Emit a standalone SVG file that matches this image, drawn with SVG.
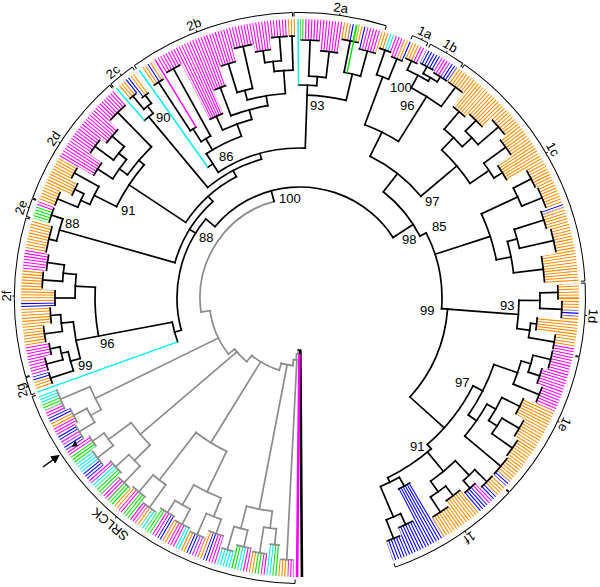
<svg xmlns="http://www.w3.org/2000/svg" width="600" height="587" viewBox="0 0 600 587">
<style>
.t path,.t circle{fill:none;stroke:#000;stroke-width:1.7;stroke-linecap:square}
.t .g path,.t .g circle{stroke:#8c8c8c}
.L circle{fill:none;stroke-width:84}
.o{stroke:#ff8c00}.m{stroke:#ff00ff}.b{stroke:#0000ff}.c{stroke:#00f0f0}.n{stroke:#00e600}.k{stroke:#000}
.lf path{fill:none;stroke-width:1.4}
.br path,.br circle{fill:none;stroke:#000;stroke-width:1}
text{font-family:"Liberation Sans",Arial,Helvetica,sans-serif;font-size:13px;fill:#000}
.cl text{font-size:13px;text-anchor:middle}
</style>
<defs>
<mask id="k" maskUnits="userSpaceOnUse" x="-300" y="-300" width="600" height="600">
<circle r="237" fill="none" stroke="#fff" stroke-width="86" pathLength="1000" stroke-dasharray="0.72 0.98"/>
<g id="er" fill="none" stroke="#000">
<circle r="226" stroke-width="64" pathLength="360" stroke-dasharray="4.5 999" transform="rotate(-90)"/>
<circle r="221" stroke-width="54" pathLength="360" stroke-dasharray="4.5 999" transform="rotate(-85.5)"/>
<circle r="228" stroke-width="68" pathLength="360" stroke-dasharray="4.1 999" transform="rotate(-81)"/>
<circle r="225" stroke-width="62" pathLength="360" stroke-dasharray="4.3 999" transform="rotate(-76.9)"/>
<circle r="228" stroke-width="68" pathLength="360" stroke-dasharray="3.1 999" transform="rotate(-72.6)"/>
<circle r="226" stroke-width="64" pathLength="360" stroke-dasharray="3.1 999" transform="rotate(-69.5)"/>
<circle r="228" stroke-width="68" pathLength="360" stroke-dasharray="3.2 999" transform="rotate(-66.4)"/>
<circle r="229" stroke-width="70" pathLength="360" stroke-dasharray="3.5 999" transform="rotate(-63)"/>
<circle r="228" stroke-width="68" pathLength="360" stroke-dasharray="3.8 999" transform="rotate(-59.5)"/>
<circle r="228" stroke-width="68" pathLength="360" stroke-dasharray="4.2 999" transform="rotate(-55.7)"/>
<circle r="219.5" stroke-width="51" pathLength="360" stroke-dasharray="4 999" transform="rotate(-51.5)"/>
<circle r="222" stroke-width="56" pathLength="360" stroke-dasharray="4.5 999" transform="rotate(-47.5)"/>
<circle r="228" stroke-width="68" pathLength="360" stroke-dasharray="4.5 999" transform="rotate(-43)"/>
<circle r="224.5" stroke-width="61" pathLength="360" stroke-dasharray="4.5 999" transform="rotate(-38.5)"/>
<circle r="216" stroke-width="44" pathLength="360" stroke-dasharray="4.5 999" transform="rotate(-34)"/>
<circle r="227" stroke-width="66" pathLength="360" stroke-dasharray="4.5 999" transform="rotate(-29.5)"/>
<circle r="228" stroke-width="68" pathLength="360" stroke-dasharray="5 999" transform="rotate(-25)"/>
<circle r="225" stroke-width="62" pathLength="360" stroke-dasharray="4.5 999" transform="rotate(-20)"/>
<circle r="227" stroke-width="66" pathLength="360" stroke-dasharray="5.5 999" transform="rotate(-15.5)"/>
<circle r="219.5" stroke-width="51" pathLength="360" stroke-dasharray="6.5 999" transform="rotate(-10)"/>
<circle r="226" stroke-width="64" pathLength="360" stroke-dasharray="3.5 999" transform="rotate(-3)"/>
<circle r="228" stroke-width="68" pathLength="360" stroke-dasharray="4 999" transform="rotate(0.5)"/>
<circle r="216" stroke-width="44" pathLength="360" stroke-dasharray="3.5 999" transform="rotate(4.5)"/>
<circle r="226" stroke-width="64" pathLength="360" stroke-dasharray="3.6 999" transform="rotate(8)"/>
<circle r="226" stroke-width="64" pathLength="360" stroke-dasharray="4.4 999" transform="rotate(11.6)"/>
<circle r="223" stroke-width="58" pathLength="360" stroke-dasharray="4 999" transform="rotate(16)"/>
<circle r="226" stroke-width="64" pathLength="360" stroke-dasharray="4 999" transform="rotate(20)"/>
<circle r="219.5" stroke-width="51" pathLength="360" stroke-dasharray="4.5 999" transform="rotate(24)"/>
<circle r="224.5" stroke-width="61" pathLength="360" stroke-dasharray="4.5 999" transform="rotate(28.5)"/>
<circle r="227" stroke-width="66" pathLength="360" stroke-dasharray="4.5 999" transform="rotate(33)"/>
<circle r="228" stroke-width="68" pathLength="360" stroke-dasharray="4.9 999" transform="rotate(37.5)"/>
<circle r="228" stroke-width="68" pathLength="360" stroke-dasharray="3.8 999" transform="rotate(42.6)"/>
<circle r="224.5" stroke-width="61" pathLength="360" stroke-dasharray="3.6 999" transform="rotate(46.4)"/>
<circle r="222" stroke-width="56" pathLength="360" stroke-dasharray="4.5 999" transform="rotate(50)"/>
<circle r="225" stroke-width="62" pathLength="360" stroke-dasharray="4.5 999" transform="rotate(54.5)"/>
<circle r="204.5" stroke-width="21" pathLength="360" stroke-dasharray="4 999" transform="rotate(59)"/>
<circle r="222" stroke-width="56" pathLength="360" stroke-dasharray="4 999" transform="rotate(63)"/>
<circle r="226" stroke-width="64" pathLength="360" stroke-dasharray="3.5 999" transform="rotate(67)"/>
<circle r="228" stroke-width="68" pathLength="360" stroke-dasharray="3.2 999" transform="rotate(91.3)"/>
<circle r="221" stroke-width="54" pathLength="360" stroke-dasharray="2.7 999" transform="rotate(94.5)"/>
<circle r="226" stroke-width="64" pathLength="360" stroke-dasharray="3.6 999" transform="rotate(97.2)"/>
<circle r="224.5" stroke-width="61" pathLength="360" stroke-dasharray="3.8 999" transform="rotate(100.8)"/>
<circle r="228" stroke-width="68" pathLength="360" stroke-dasharray="3 999" transform="rotate(104.6)"/>
<circle r="222" stroke-width="56" pathLength="360" stroke-dasharray="4 999" transform="rotate(107.6)"/>
<circle r="226" stroke-width="64" pathLength="360" stroke-dasharray="3.8 999" transform="rotate(111.6)"/>
<circle r="224.5" stroke-width="61" pathLength="360" stroke-dasharray="4.2 999" transform="rotate(115.4)"/>
<circle r="223" stroke-width="58" pathLength="360" stroke-dasharray="4.2 999" transform="rotate(119.6)"/>
<circle r="226" stroke-width="64" pathLength="360" stroke-dasharray="3.8 999" transform="rotate(123.8)"/>
<circle r="223" stroke-width="58" pathLength="360" stroke-dasharray="4.2 999" transform="rotate(127.6)"/>
<circle r="224.5" stroke-width="61" pathLength="360" stroke-dasharray="3.6 999" transform="rotate(131.8)"/>
<circle r="222" stroke-width="56" pathLength="360" stroke-dasharray="4.2 999" transform="rotate(135.4)"/>
<circle r="226" stroke-width="64" pathLength="360" stroke-dasharray="4.2 999" transform="rotate(139.6)"/>
<circle r="223" stroke-width="58" pathLength="360" stroke-dasharray="3.2 999" transform="rotate(143.8)"/>
<circle r="226" stroke-width="64" pathLength="360" stroke-dasharray="3.6 999" transform="rotate(147)"/>
<circle r="224.5" stroke-width="61" pathLength="360" stroke-dasharray="4 999" transform="rotate(150.6)"/>
<circle r="227" stroke-width="66" pathLength="360" stroke-dasharray="5 999" transform="rotate(154.6)"/>
<circle r="228" stroke-width="68" pathLength="360" stroke-dasharray="2.8 999" transform="rotate(160.8)"/>
<circle r="228" stroke-width="68" pathLength="360" stroke-dasharray="3.4 999" transform="rotate(163.6)"/>
<circle r="224.5" stroke-width="61" pathLength="360" stroke-dasharray="3 999" transform="rotate(167)"/>
<circle r="226" stroke-width="64" pathLength="360" stroke-dasharray="4 999" transform="rotate(170)"/>
<circle r="222" stroke-width="56" pathLength="360" stroke-dasharray="4 999" transform="rotate(174)"/>
<circle r="219.5" stroke-width="51" pathLength="360" stroke-dasharray="4 999" transform="rotate(178)"/>
<circle r="226" stroke-width="64" pathLength="360" stroke-dasharray="4 999" transform="rotate(182)"/>
<circle r="224.5" stroke-width="61" pathLength="360" stroke-dasharray="4 999" transform="rotate(186)"/>
<circle r="226" stroke-width="64" pathLength="360" stroke-dasharray="6.4 999" transform="rotate(190)"/>
<circle r="228" stroke-width="68" pathLength="360" stroke-dasharray="3.9 999" transform="rotate(196.4)"/>
<circle r="228" stroke-width="68" pathLength="360" stroke-dasharray="3.7 999" transform="rotate(200.3)"/>
<circle r="222" stroke-width="56" pathLength="360" stroke-dasharray="3.5 999" transform="rotate(204)"/>
<circle r="226" stroke-width="64" pathLength="360" stroke-dasharray="3 999" transform="rotate(207.5)"/>
<circle r="217" stroke-width="46" pathLength="360" stroke-dasharray="4 999" transform="rotate(210.5)"/>
<circle r="224.5" stroke-width="61" pathLength="360" stroke-dasharray="4 999" transform="rotate(214.5)"/>
<circle r="221" stroke-width="54" pathLength="360" stroke-dasharray="4.5 999" transform="rotate(218.5)"/>
<circle r="227" stroke-width="66" pathLength="360" stroke-dasharray="5.2 999" transform="rotate(223)"/>
<circle r="228" stroke-width="68" pathLength="360" stroke-dasharray="2.3 999" transform="rotate(229.2)"/>
<circle r="224.5" stroke-width="61" pathLength="360" stroke-dasharray="2.5 999" transform="rotate(231.5)"/>
<circle r="226" stroke-width="64" pathLength="360" stroke-dasharray="3.1 999" transform="rotate(235.2)"/>
<circle r="228" stroke-width="68" pathLength="360" stroke-dasharray="3.9 999" transform="rotate(239.1)"/>
<circle r="197" stroke-width="6" pathLength="360" stroke-dasharray="4.5 999" transform="rotate(243)"/>
<circle r="209.5" stroke-width="31" pathLength="360" stroke-dasharray="3.5 999" transform="rotate(247.5)"/>
<circle r="219.5" stroke-width="51" pathLength="360" stroke-dasharray="4 999" transform="rotate(251)"/>
<circle r="226" stroke-width="64" pathLength="360" stroke-dasharray="4.5 999" transform="rotate(255)"/>
<circle r="222" stroke-width="56" pathLength="360" stroke-dasharray="4 999" transform="rotate(259.5)"/>
<circle r="228" stroke-width="68" pathLength="360" stroke-dasharray="4 999" transform="rotate(263.5)"/>
<circle r="228" stroke-width="68" pathLength="360" stroke-dasharray="1.7 999" transform="rotate(267.5)"/>
</g>
<use href="#er" transform="rotate(0.18)"/>
<use href="#er" transform="rotate(-0.18)"/>
</mask>
<marker id="ah" viewBox="0 0 10 10" refX="2" refY="5" markerWidth="6" markerHeight="6" orient="auto"><path d="M0 0L10 5L0 10z" fill="#000"/></marker>
</defs>
<rect width="600" height="587" fill="#fff"/>
<g transform="translate(300 298)">
<g id="leaves" class="L" mask="url(#k)">
<circle r="237" pathLength="360" class="n" stroke-dasharray="0.8 999" transform="rotate(-90)"/>
<circle r="237" pathLength="360" class="m" stroke-dasharray="8.2 999" transform="rotate(-89.2)"/>
<circle r="237" pathLength="360" class="o" stroke-dasharray="1.5 999" transform="rotate(-81)"/>
<circle r="237" pathLength="360" class="b" stroke-dasharray="0.9 999" transform="rotate(-79.5)"/>
<circle r="237" pathLength="360" class="n" stroke-dasharray="0.8 999" transform="rotate(-78.6)"/>
<circle r="237" pathLength="360" class="o" stroke-dasharray="0.9 999" transform="rotate(-77.8)"/>
<circle r="237" pathLength="360" class="b" stroke-dasharray="0.9 999" transform="rotate(-76.9)"/>
<circle r="237" pathLength="360" class="m" stroke-dasharray="3 999" transform="rotate(-76)"/>
<circle r="237" pathLength="360" class="o" stroke-dasharray="1.8 999" transform="rotate(-73)"/>
<circle r="237" pathLength="360" class="c" stroke-dasharray="1 999" transform="rotate(-71.2)"/>
<circle r="237" pathLength="360" class="m" stroke-dasharray="2.2 999" transform="rotate(-70.2)"/>
<circle r="237" pathLength="360" class="o" stroke-dasharray="1 999" transform="rotate(-68)"/>
<circle r="237" pathLength="360" class="b" stroke-dasharray="0.6 999" transform="rotate(-67)"/>
<circle r="237" pathLength="360" class="o" stroke-dasharray="1.9 999" transform="rotate(-66.4)"/>
<circle r="237" pathLength="360" class="m" stroke-dasharray="1.3 999" transform="rotate(-64.5)"/>
<circle r="237" pathLength="360" class="b" stroke-dasharray="3.5 999" transform="rotate(-63)"/>
<circle r="237" pathLength="360" class="m" stroke-dasharray="2 999" transform="rotate(-59.5)"/>
<circle r="237" pathLength="360" class="b" stroke-dasharray="1.8 999" transform="rotate(-57.5)"/>
<circle r="237" pathLength="360" class="o" stroke-dasharray="36 999" transform="rotate(-55.7)"/>
<circle r="237" pathLength="360" class="b" stroke-dasharray="0.7 999" transform="rotate(-19.7)"/>
<circle r="237" pathLength="360" class="o" stroke-dasharray="15.5 999" transform="rotate(-19)"/>
<circle r="237" pathLength="360" class="o" stroke-dasharray="5.6 999" transform="rotate(-3)"/>
<circle r="237" pathLength="360" class="b" stroke-dasharray="1.2 999" transform="rotate(2.6)"/>
<circle r="237" pathLength="360" class="o" stroke-dasharray="6.6 999" transform="rotate(3.8)"/>
<circle r="237" pathLength="360" class="m" stroke-dasharray="1.2 999" transform="rotate(10.4)"/>
<circle r="237" pathLength="360" class="m" stroke-dasharray="12.4 999" transform="rotate(11.6)"/>
<circle r="237" pathLength="360" class="o" stroke-dasharray="17.2 999" transform="rotate(24)"/>
<circle r="237" pathLength="360" class="b" stroke-dasharray="1.2 999" transform="rotate(41.2)"/>
<circle r="237" pathLength="360" class="o" stroke-dasharray="2.7 999" transform="rotate(42.6)"/>
<circle r="237" pathLength="360" class="b" stroke-dasharray="1.1 999" transform="rotate(45.3)"/>
<circle r="237" pathLength="360" class="m" stroke-dasharray="1.4 999" transform="rotate(46.4)"/>
<circle r="237" pathLength="360" class="b" stroke-dasharray="2.2 999" transform="rotate(47.8)"/>
<circle r="237" pathLength="360" class="o" stroke-dasharray="9 999" transform="rotate(50)"/>
<circle r="237" pathLength="360" class="b" stroke-dasharray="11.5 999" transform="rotate(59)"/>
<circle r="237" pathLength="360" class="m" stroke-dasharray="1.3 999" transform="rotate(91.3)"/>
<circle r="237" pathLength="360" class="o" stroke-dasharray="1.9 999" transform="rotate(92.6)"/>
<circle r="237" pathLength="360" class="n" stroke-dasharray="1.3 999" transform="rotate(94.5)"/>
<circle r="237" pathLength="360" class="c" stroke-dasharray="1.4 999" transform="rotate(95.8)"/>
<circle r="237" pathLength="360" class="m" stroke-dasharray="1 999" transform="rotate(97.2)"/>
<circle r="237" pathLength="360" class="n" stroke-dasharray="1.4 999" transform="rotate(98.2)"/>
<circle r="237" pathLength="360" class="o" stroke-dasharray="1.2 999" transform="rotate(99.6)"/>
<circle r="237" pathLength="360" class="m" stroke-dasharray="1.2 999" transform="rotate(100.8)"/>
<circle r="237" pathLength="360" class="c" stroke-dasharray="1.3 999" transform="rotate(102)"/>
<circle r="237" pathLength="360" class="n" stroke-dasharray="1.3 999" transform="rotate(103.3)"/>
<circle r="237" pathLength="360" class="c" stroke-dasharray="3 999" transform="rotate(104.6)"/>
<circle r="237" pathLength="360" class="m" stroke-dasharray="1.8 999" transform="rotate(107.6)"/>
<circle r="237" pathLength="360" class="b" stroke-dasharray="1 999" transform="rotate(109.4)"/>
<circle r="237" pathLength="360" class="o" stroke-dasharray="1.2 999" transform="rotate(110.4)"/>
<circle r="237" pathLength="360" class="m" stroke-dasharray="1.2 999" transform="rotate(111.6)"/>
<circle r="237" pathLength="360" class="b" stroke-dasharray="1.4 999" transform="rotate(112.8)"/>
<circle r="237" pathLength="360" class="o" stroke-dasharray="1.2 999" transform="rotate(114.2)"/>
<circle r="237" pathLength="360" class="c" stroke-dasharray="1.2 999" transform="rotate(115.4)"/>
<circle r="237" pathLength="360" class="m" stroke-dasharray="1.8 999" transform="rotate(116.6)"/>
<circle r="237" pathLength="360" class="o" stroke-dasharray="1.2 999" transform="rotate(118.4)"/>
<circle r="237" pathLength="360" class="b" stroke-dasharray="1.2 999" transform="rotate(119.6)"/>
<circle r="237" pathLength="360" class="m" stroke-dasharray="1.6 999" transform="rotate(120.8)"/>
<circle r="237" pathLength="360" class="n" stroke-dasharray="1.4 999" transform="rotate(122.4)"/>
<circle r="237" pathLength="360" class="c" stroke-dasharray="1.2 999" transform="rotate(123.8)"/>
<circle r="237" pathLength="360" class="o" stroke-dasharray="1.2 999" transform="rotate(125)"/>
<circle r="237" pathLength="360" class="m" stroke-dasharray="1.4 999" transform="rotate(126.2)"/>
<circle r="237" pathLength="360" class="n" stroke-dasharray="1.8 999" transform="rotate(127.6)"/>
<circle r="237" pathLength="360" class="m" stroke-dasharray="1.2 999" transform="rotate(129.4)"/>
<circle r="237" pathLength="360" class="o" stroke-dasharray="1.2 999" transform="rotate(130.6)"/>
<circle r="237" pathLength="360" class="n" stroke-dasharray="1.8 999" transform="rotate(131.8)"/>
<circle r="237" pathLength="360" class="m" stroke-dasharray="1.8 999" transform="rotate(133.6)"/>
<circle r="237" pathLength="360" class="n" stroke-dasharray="1.8 999" transform="rotate(135.4)"/>
<circle r="237" pathLength="360" class="c" stroke-dasharray="1.2 999" transform="rotate(137.2)"/>
<circle r="237" pathLength="360" class="m" stroke-dasharray="1.2 999" transform="rotate(138.4)"/>
<circle r="237" pathLength="360" class="b" stroke-dasharray="1.8 999" transform="rotate(139.6)"/>
<circle r="237" pathLength="360" class="c" stroke-dasharray="2.4 999" transform="rotate(141.4)"/>
<circle r="237" pathLength="360" class="n" stroke-dasharray="1.8 999" transform="rotate(143.8)"/>
<circle r="237" pathLength="360" class="m" stroke-dasharray="1.4 999" transform="rotate(145.6)"/>
<circle r="237" pathLength="360" class="b" stroke-dasharray="1.2 999" transform="rotate(147)"/>
<circle r="237" pathLength="360" class="m" stroke-dasharray="1.2 999" transform="rotate(148.2)"/>
<circle r="237" pathLength="360" class="b" stroke-dasharray="1.2 999" transform="rotate(149.4)"/>
<circle r="237" pathLength="360" class="m" stroke-dasharray="1.6 999" transform="rotate(150.6)"/>
<circle r="237" pathLength="360" class="o" stroke-dasharray="1.2 999" transform="rotate(152.2)"/>
<circle r="237" pathLength="360" class="b" stroke-dasharray="1.2 999" transform="rotate(153.4)"/>
<circle r="237" pathLength="360" class="m" stroke-dasharray="1.6 999" transform="rotate(154.6)"/>
<circle r="237" pathLength="360" class="n" stroke-dasharray="1.4 999" transform="rotate(156.2)"/>
<circle r="237" pathLength="360" class="c" stroke-dasharray="2 999" transform="rotate(157.6)"/>
<circle r="237" pathLength="360" class="o" stroke-dasharray="1.8 999" transform="rotate(160.8)"/>
<circle r="237" pathLength="360" class="b" stroke-dasharray="1 999" transform="rotate(162.6)"/>
<circle r="237" pathLength="360" class="m" stroke-dasharray="6.2 999" transform="rotate(163.8)"/>
<circle r="237" pathLength="360" class="o" stroke-dasharray="8 999" transform="rotate(170)"/>
<circle r="237" pathLength="360" class="b" stroke-dasharray="1 999" transform="rotate(178)"/>
<circle r="237" pathLength="360" class="o" stroke-dasharray="7 999" transform="rotate(179)"/>
<circle r="237" pathLength="360" class="m" stroke-dasharray="4 999" transform="rotate(186)"/>
<circle r="237" pathLength="360" class="o" stroke-dasharray="6.3 999" transform="rotate(190)"/>
<circle r="237" pathLength="360" class="n" stroke-dasharray="2.7 999" transform="rotate(196.6)"/>
<circle r="237" pathLength="360" class="m" stroke-dasharray="1 999" transform="rotate(199.3)"/>
<circle r="237" pathLength="360" class="o" stroke-dasharray="10 999" transform="rotate(200.5)"/>
<circle r="237" pathLength="360" class="m" stroke-dasharray="17.5 999" transform="rotate(210.5)"/>
<circle r="237" pathLength="360" class="o" stroke-dasharray="1.9 999" transform="rotate(229.3)"/>
<circle r="237" pathLength="360" class="b" stroke-dasharray="1.1 999" transform="rotate(231.2)"/>
<circle r="237" pathLength="360" class="o" stroke-dasharray="1.5 999" transform="rotate(232.3)"/>
<circle r="237" pathLength="360" class="o" stroke-dasharray="1.2 999" transform="rotate(235.3)"/>
<circle r="237" pathLength="360" class="b" stroke-dasharray="1 999" transform="rotate(236.5)"/>
<circle r="237" pathLength="360" class="o" stroke-dasharray="0.7 999" transform="rotate(237.5)"/>
<circle r="237" pathLength="360" class="m" stroke-dasharray="28.3 999" transform="rotate(239.2)"/>
<circle r="237" pathLength="360" class="o" stroke-dasharray="1.5 999" transform="rotate(267.5)"/>
</g>
<g id="connectors" class="t">
<g id="outgroup-srlck" class="g">
<path d="M0-52V-56" transform="rotate(181.8)"/>
<circle r="56" pathLength="360" stroke-dasharray="2.9 999" transform="rotate(90.6)"/>
<path d="M0-56V-62" transform="rotate(183.5)"/>
<circle r="62" pathLength="360" stroke-dasharray="3.1 999" transform="rotate(92.9)"/>
<path d="M0-62V-262" transform="rotate(182.9)"/>
<path d="M0-62V-68" transform="rotate(186)"/>
<circle r="68" pathLength="360" stroke-dasharray="10 999" transform="rotate(96)"/>
<path d="M0-68V-215" transform="rotate(190.9)"/>
<circle r="215" pathLength="360" stroke-dasharray="7 999" transform="rotate(97.4)"/>
<path d="M0-215V-232" transform="rotate(187.4)"/>
<circle r="232" pathLength="360" stroke-dasharray="3.15 999" transform="rotate(95.85)"/>
<path d="M0-232V-248" transform="rotate(185.85)"/>
<path d="M0-232V-258" transform="rotate(189)"/>
<path d="M0-215V-238" transform="rotate(194.4)"/>
<circle r="238" pathLength="360" stroke-dasharray="3.4 999" transform="rotate(102.7)"/>
<path d="M0-238V-255" transform="rotate(192.7)"/>
<path d="M0-238V-262" transform="rotate(196.1)"/>
<path d="M0-68V-75" transform="rotate(196)"/>
<circle r="75" pathLength="360" stroke-dasharray="24 999" transform="rotate(106)"/>
<path d="M0-75V-170" transform="rotate(211.65)"/>
<circle r="170" pathLength="360" stroke-dasharray="12.1 999" transform="rotate(115.6)"/>
<path d="M0-170V-215" transform="rotate(205.6)"/>
<circle r="215" pathLength="360" stroke-dasharray="8.05 999" transform="rotate(111.55)"/>
<path d="M0-215V-235" transform="rotate(201.55)"/>
<circle r="235" pathLength="360" stroke-dasharray="3.9 999" transform="rotate(109.6)"/>
<path d="M0-235V-250" transform="rotate(199.6)"/>
<path d="M0-235V-258" transform="rotate(203.5)"/>
<path d="M0-215V-238" transform="rotate(209.6)"/>
<circle r="238" pathLength="360" stroke-dasharray="4.2 999" transform="rotate(117.5)"/>
<path d="M0-238V-255" transform="rotate(207.5)"/>
<path d="M0-238V-252" transform="rotate(211.7)"/>
<path d="M0-170V-230" transform="rotate(217.7)"/>
<circle r="230" pathLength="360" stroke-dasharray="4 999" transform="rotate(125.7)"/>
<path d="M0-230V-258" transform="rotate(215.7)"/>
<path d="M0-230V-252" transform="rotate(219.7)"/>
<path d="M0-75V-83" transform="rotate(220)"/>
<circle r="83" pathLength="360" stroke-dasharray="12 999" transform="rotate(130)"/>
<path d="M0-83V-210" transform="rotate(229.55)"/>
<circle r="210" pathLength="360" stroke-dasharray="8 999" transform="rotate(135.55)"/>
<path d="M0-210V-232" transform="rotate(225.55)"/>
<circle r="232" pathLength="360" stroke-dasharray="3.9 999" transform="rotate(133.6)"/>
<path d="M0-232V-255" transform="rotate(223.6)"/>
<path d="M0-232V-250" transform="rotate(227.5)"/>
<path d="M0-210V-238" transform="rotate(233.55)"/>
<circle r="238" pathLength="360" stroke-dasharray="3.7 999" transform="rotate(141.7)"/>
<path d="M0-238V-258" transform="rotate(231.7)"/>
<path d="M0-238V-252" transform="rotate(235.4)"/>
<path d="M0-83V-91" transform="rotate(232)"/>
<circle r="91" pathLength="360" stroke-dasharray="30 999" transform="rotate(142)"/>
<path d="M0-91V-228" transform="rotate(243.9)"/>
<circle r="228" pathLength="360" stroke-dasharray="6.4 999" transform="rotate(150.7)"/>
<path d="M0-228V-240" transform="rotate(240.7)"/>
<circle r="240" pathLength="360" stroke-dasharray="3.8 999" transform="rotate(148.8)"/>
<path d="M0-240V-258" transform="rotate(238.8)"/>
<path d="M0-240V-255" transform="rotate(242.6)"/>
<path d="M0-228V-260" transform="rotate(247.1)"/>
<path d="M0-91V-100" transform="rotate(262)"/>
<circle r="100" pathLength="360" stroke-dasharray="83 999" transform="rotate(172)"/>
<circle r="262" pathLength="360" stroke-dasharray="2.6 999" transform="rotate(91.6)"/>
<circle r="248" pathLength="360" stroke-dasharray="2.1 999" transform="rotate(94.8)"/>
<circle r="258" pathLength="360" stroke-dasharray="3 999" transform="rotate(97.5)"/>
<circle r="255" pathLength="360" stroke-dasharray="3.2 999" transform="rotate(101.1)"/>
<circle r="262" pathLength="360" stroke-dasharray="2.4 999" transform="rotate(104.9)"/>
<circle r="250" pathLength="360" stroke-dasharray="3.4 999" transform="rotate(107.9)"/>
<circle r="258" pathLength="360" stroke-dasharray="3.2 999" transform="rotate(111.9)"/>
<circle r="255" pathLength="360" stroke-dasharray="3.6 999" transform="rotate(115.7)"/>
<circle r="252" pathLength="360" stroke-dasharray="3.6 999" transform="rotate(119.9)"/>
<circle r="258" pathLength="360" stroke-dasharray="3.2 999" transform="rotate(124.1)"/>
<circle r="252" pathLength="360" stroke-dasharray="3.6 999" transform="rotate(127.9)"/>
<circle r="255" pathLength="360" stroke-dasharray="3 999" transform="rotate(132.1)"/>
<circle r="250" pathLength="360" stroke-dasharray="3.6 999" transform="rotate(135.7)"/>
<circle r="258" pathLength="360" stroke-dasharray="3.6 999" transform="rotate(139.9)"/>
<circle r="252" pathLength="360" stroke-dasharray="2.6 999" transform="rotate(144.1)"/>
<circle r="258" pathLength="360" stroke-dasharray="3 999" transform="rotate(147.3)"/>
<circle r="255" pathLength="360" stroke-dasharray="3.4 999" transform="rotate(150.9)"/>
<circle r="260" pathLength="360" stroke-dasharray="4.4 999" transform="rotate(154.9)"/>
</g>
<circle r="52" pathLength="360" stroke-dasharray="2.2 999" transform="rotate(89.6)"/>
<path d="M0-100V-111" transform="rotate(345)"/>
<circle r="111" pathLength="360" stroke-dasharray="107 999" transform="rotate(220)"/>
<g id="clade-2">
<path d="M0-111V-123" transform="rotate(310)"/>
<circle r="123" pathLength="360" stroke-dasharray="55.2 999" transform="rotate(164.8)"/>
<path d="M0-123V-130" transform="rotate(254.8)"/>
<circle r="130" pathLength="360" stroke-dasharray="9 999" transform="rotate(160.3)"/>
<path d="M0-130V-228" transform="rotate(259.3)"/>
<circle r="205" pathLength="360" stroke-dasharray="13.7 999" transform="rotate(169.3)"/>
<path d="M0-205V-225" transform="rotate(273)"/>
<circle r="228" pathLength="360" stroke-dasharray="9.4 999" transform="rotate(164.6)"/>
<path d="M0-228V-238" transform="rotate(254.6)"/>
<path d="M0-228V-240" transform="rotate(264)"/>
<circle r="238" pathLength="360" stroke-dasharray="4.75 999" transform="rotate(162.2)"/>
<path d="M0-238V-262" transform="rotate(252.2)"/>
<path d="M0-238V-245" transform="rotate(256.95)"/>
<circle r="245" pathLength="360" stroke-dasharray="3.1 999" transform="rotate(165.4)"/>
<path d="M0-245V-262" transform="rotate(255.4)"/>
<path d="M0-245V-255" transform="rotate(258.5)"/>
<circle r="240" pathLength="360" stroke-dasharray="4 999" transform="rotate(172)"/>
<path d="M0-240V-258" transform="rotate(262)"/>
<path d="M0-240V-250" transform="rotate(266)"/>
<circle r="225" pathLength="360" stroke-dasharray="6 999" transform="rotate(180)"/>
<path d="M0-225V-245" transform="rotate(270)"/>
<path d="M0-225V-238" transform="rotate(276)"/>
<circle r="238" pathLength="360" stroke-dasharray="4 999" transform="rotate(184)"/>
<path d="M0-238V-258" transform="rotate(274)"/>
<path d="M0-238V-255" transform="rotate(278)"/>
<path d="M0-123V-130" transform="rotate(301.85)"/>
<circle r="130" pathLength="360" stroke-dasharray="32.1 999" transform="rotate(195.8)"/>
<path d="M0-130V-250" transform="rotate(285.8)"/>
<circle r="250" pathLength="360" stroke-dasharray="5.25 999" transform="rotate(193.2)"/>
<path d="M0-250V-258" transform="rotate(283.2)"/>
<path d="M0-250V-262" transform="rotate(288.45)"/>
<path d="M0-130V-137" transform="rotate(317.9)"/>
<circle r="137" pathLength="360" stroke-dasharray="28.8 999" transform="rotate(213.5)"/>
<path d="M0-137V-205" transform="rotate(303.5)"/>
<circle r="205" pathLength="360" stroke-dasharray="14 999" transform="rotate(206.5)"/>
<path d="M0-205V-230" transform="rotate(296.5)"/>
<circle r="230" pathLength="360" stroke-dasharray="5 999" transform="rotate(204)"/>
<path d="M0-230V-240" transform="rotate(294)"/>
<circle r="240" pathLength="360" stroke-dasharray="3.5 999" transform="rotate(202.25)"/>
<path d="M0-240V-262" transform="rotate(292.25)"/>
<path d="M0-240V-250" transform="rotate(295.75)"/>
<path d="M0-230V-258" transform="rotate(299)"/>
<path d="M0-205V-212" transform="rotate(310.5)"/>
<circle r="212" pathLength="360" stroke-dasharray="9.95 999" transform="rotate(215.55)"/>
<path d="M0-212V-222" transform="rotate(305.55)"/>
<circle r="222" pathLength="360" stroke-dasharray="6.1 999" transform="rotate(212.5)"/>
<path d="M0-222V-240" transform="rotate(302.5)"/>
<path d="M0-222V-232" transform="rotate(308.6)"/>
<circle r="232" pathLength="360" stroke-dasharray="4.25 999" transform="rotate(216.5)"/>
<path d="M0-232V-255" transform="rotate(306.5)"/>
<path d="M0-232V-248" transform="rotate(310.75)"/>
<path d="M0-212V-260" transform="rotate(315.5)"/>
<path d="M0-137V-144" transform="rotate(332.3)"/>
<circle r="144" pathLength="360" stroke-dasharray="24.35 999" transform="rotate(230.15)"/>
<path d="M0-144V-236" transform="rotate(320.15)"/>
<circle r="236" pathLength="360" stroke-dasharray="2.7 999" transform="rotate(228.8)"/>
<path d="M0-236V-245" transform="rotate(321.5)"/>
<circle r="245" pathLength="360" stroke-dasharray="2.25 999" transform="rotate(230.4)"/>
<path d="M0-245V-262" transform="rotate(320.4)"/>
<path d="M0-245V-255" transform="rotate(322.65)"/>
<path d="M0-144V-150" transform="rotate(344.5)"/>
<circle r="150" pathLength="360" stroke-dasharray="35 999" transform="rotate(237)"/>
<path d="M0-150V-172" transform="rotate(327)"/>
<circle r="160" pathLength="360" stroke-dasharray="2.2 999" transform="rotate(234.8)"/>
<circle r="172" pathLength="360" stroke-dasharray="13.1 999" transform="rotate(237)"/>
<path d="M0-172V-185" transform="rotate(329.4)"/>
<circle r="185" pathLength="360" stroke-dasharray="3.4 999" transform="rotate(237.7)"/>
<path d="M0-185V-200" transform="rotate(327.7)"/>
<circle r="200" pathLength="360" stroke-dasharray="1.95 999" transform="rotate(236.75)"/>
<path d="M0-200V-258" transform="rotate(326.75)"/>
<path d="M0-185V-262" transform="rotate(331.1)"/>
<path d="M0-172V-185" transform="rotate(340.1)"/>
<circle r="185" pathLength="360" stroke-dasharray="9.65 999" transform="rotate(245.25)"/>
<path d="M0-185V-200" transform="rotate(335.25)"/>
<path d="M0-185V-195" transform="rotate(344.9)"/>
<circle r="195" pathLength="360" stroke-dasharray="11.25 999" transform="rotate(249.25)"/>
<path d="M0-195V-225" transform="rotate(339.25)"/>
<path d="M0-195V-205" transform="rotate(350.5)"/>
<circle r="205" pathLength="360" stroke-dasharray="10.8 999" transform="rotate(255.1)"/>
<path d="M0-205V-215" transform="rotate(345.1)"/>
<circle r="215" pathLength="360" stroke-dasharray="4.25 999" transform="rotate(253)"/>
<path d="M0-215V-245" transform="rotate(343)"/>
<path d="M0-215V-258" transform="rotate(347.25)"/>
<path d="M0-205V-228" transform="rotate(355.9)"/>
<circle r="228" pathLength="360" stroke-dasharray="4.75 999" transform="rotate(263.5)"/>
<path d="M0-228V-238" transform="rotate(353.5)"/>
<circle r="238" pathLength="360" stroke-dasharray="4 999" transform="rotate(261.5)"/>
<path d="M0-238V-250" transform="rotate(351.5)"/>
<path d="M0-238V-262" transform="rotate(355.5)"/>
<path d="M0-228V-262" transform="rotate(358.25)"/>
<path d="M0-150V-213" transform="rotate(2)"/>
<circle r="203" pathLength="360" stroke-dasharray="11.15 999" transform="rotate(-88)"/>
<path d="M0-203V-230" transform="rotate(13.15)"/>
<circle r="230" pathLength="360" stroke-dasharray="4.2 999" transform="rotate(-78.95)"/>
<path d="M0-230V-262" transform="rotate(11.05)"/>
<path d="M0-230V-256" transform="rotate(15.25)"/>
<circle r="213" pathLength="360" stroke-dasharray="4.9 999" transform="rotate(269.6)"/>
<path d="M0-213V-222" transform="rotate(4.5)"/>
<circle r="222" pathLength="360" stroke-dasharray="4.5 999" transform="rotate(-87.75)"/>
<path d="M0-222V-258" transform="rotate(2.25)"/>
<path d="M0-222V-248" transform="rotate(6.75)"/>
</g>
<g id="clade-1">
<path d="M0-111V-135" transform="rotate(57)"/>
<circle r="135" pathLength="360" stroke-dasharray="24.6 999" transform="rotate(-51.9)"/>
<path d="M0-135V-158" transform="rotate(38.1)"/>
<circle r="158" pathLength="360" stroke-dasharray="23.6 999" transform="rotate(-63.7)"/>
<path d="M0-158V-185" transform="rotate(26.3)"/>
<circle r="185" pathLength="360" stroke-dasharray="11.65 999" transform="rotate(-69.5)"/>
<path d="M0-185V-236" transform="rotate(20.5)"/>
<circle r="236" pathLength="360" stroke-dasharray="3.1 999" transform="rotate(-71.05)"/>
<path d="M0-236V-262" transform="rotate(18.95)"/>
<path d="M0-236V-258" transform="rotate(22.05)"/>
<path d="M0-185V-238" transform="rotate(32.15)"/>
<circle r="238" pathLength="360" stroke-dasharray="8.5 999" transform="rotate(-62.1)"/>
<path d="M0-238V-252" transform="rotate(27.9)"/>
<circle r="252" pathLength="360" stroke-dasharray="5.4 999" transform="rotate(-64.8)"/>
<path d="M0-252V-262" transform="rotate(25.2)"/>
<path d="M0-252V-256" transform="rotate(30.6)"/>
<circle r="256" pathLength="360" stroke-dasharray="3.65 999" transform="rotate(-61.25)"/>
<path d="M0-256V-264" transform="rotate(28.75)"/>
<path d="M0-256V-262" transform="rotate(32.4)"/>
<path d="M0-238V-262" transform="rotate(36.4)"/>
<path d="M0-158V-205" transform="rotate(49.9)"/>
<circle r="205" pathLength="360" stroke-dasharray="12.25 999" transform="rotate(-46.25)"/>
<path d="M0-205V-222" transform="rotate(43.75)"/>
<circle r="222" pathLength="360" stroke-dasharray="6.5 999" transform="rotate(-49.5)"/>
<path d="M0-222V-245" transform="rotate(40.5)"/>
<path d="M0-222V-235" transform="rotate(47)"/>
<circle r="235" pathLength="360" stroke-dasharray="4.5 999" transform="rotate(-45.25)"/>
<path d="M0-235V-250" transform="rotate(44.75)"/>
<path d="M0-235V-262" transform="rotate(49.25)"/>
<path d="M0-205V-228" transform="rotate(56)"/>
<circle r="228" pathLength="360" stroke-dasharray="4.5 999" transform="rotate(-36.25)"/>
<path d="M0-228V-255" transform="rotate(53.75)"/>
<path d="M0-228V-238" transform="rotate(58.25)"/>
<path d="M0-135V-142" transform="rotate(62.7)"/>
<circle r="142" pathLength="360" stroke-dasharray="31.6 999" transform="rotate(-27.3)"/>
<path d="M0-142V-200" transform="rotate(72.05)"/>
<circle r="200" pathLength="360" stroke-dasharray="13.9 999" transform="rotate(-24.9)"/>
<path d="M0-200V-240" transform="rotate(65.1)"/>
<circle r="240" pathLength="360" stroke-dasharray="4.75 999" transform="rotate(-27.25)"/>
<path d="M0-240V-260" transform="rotate(62.75)"/>
<path d="M0-240V-262" transform="rotate(67.5)"/>
<path d="M0-200V-215" transform="rotate(79)"/>
<circle r="215" pathLength="360" stroke-dasharray="8.5 999" transform="rotate(-15.25)"/>
<path d="M0-215V-225" transform="rotate(74.75)"/>
<circle r="225" pathLength="360" stroke-dasharray="5 999" transform="rotate(-17.75)"/>
<path d="M0-225V-256" transform="rotate(72.25)"/>
<path d="M0-225V-260" transform="rotate(77.25)"/>
<path d="M0-215V-245" transform="rotate(83.25)"/>
<path d="M0-142V-219" transform="rotate(94.3)"/>
<circle r="148" pathLength="360" stroke-dasharray="37.7 999" transform="rotate(4.3)"/>
<circle r="219" pathLength="360" stroke-dasharray="7.4 999" transform="rotate(0.6)"/>
<path d="M0-219V-240" transform="rotate(90.6)"/>
<circle r="240" pathLength="360" stroke-dasharray="3.75 999" transform="rotate(-1.25)"/>
<path d="M0-240V-258" transform="rotate(88.75)"/>
<path d="M0-240V-262" transform="rotate(92.5)"/>
<path d="M0-219V-232" transform="rotate(98)"/>
<circle r="232" pathLength="360" stroke-dasharray="3.55 999" transform="rotate(6.25)"/>
<path d="M0-232V-238" transform="rotate(96.25)"/>
<path d="M0-232V-258" transform="rotate(99.8)"/>
<path d="M0-148V-194" transform="rotate(132)"/>
<circle r="194" pathLength="360" stroke-dasharray="22.1 999" transform="rotate(26.9)"/>
<path d="M0-194V-205" transform="rotate(116.9)"/>
<circle r="205" pathLength="360" stroke-dasharray="15.85 999" transform="rotate(18.95)"/>
<path d="M0-205V-230" transform="rotate(108.95)"/>
<circle r="230" pathLength="360" stroke-dasharray="6.1 999" transform="rotate(15.9)"/>
<path d="M0-230V-240" transform="rotate(105.9)"/>
<circle r="240" pathLength="360" stroke-dasharray="4.2 999" transform="rotate(13.8)"/>
<path d="M0-240V-258" transform="rotate(103.8)"/>
<path d="M0-240V-252" transform="rotate(108)"/>
<path d="M0-230V-258" transform="rotate(112)"/>
<path d="M0-205V-215" transform="rotate(124.8)"/>
<circle r="215" pathLength="360" stroke-dasharray="10.35 999" transform="rotate(29.6)"/>
<path d="M0-215V-225" transform="rotate(119.6)"/>
<circle r="225" pathLength="360" stroke-dasharray="6.75 999" transform="rotate(26.25)"/>
<path d="M0-225V-245" transform="rotate(116.25)"/>
<path d="M0-225V-235" transform="rotate(123)"/>
<circle r="235" pathLength="360" stroke-dasharray="4.5 999" transform="rotate(30.75)"/>
<path d="M0-235V-255" transform="rotate(120.75)"/>
<path d="M0-235V-260" transform="rotate(125.25)"/>
<path d="M0-215V-262" transform="rotate(129.95)"/>
<path d="M0-194V-200" transform="rotate(139)"/>
<circle r="200" pathLength="360" stroke-dasharray="15 999" transform="rotate(49)"/>
<path d="M0-200V-225" transform="rotate(140.4)"/>
<circle r="225" pathLength="360" stroke-dasharray="8.15 999" transform="rotate(46.35)"/>
<path d="M0-225V-245" transform="rotate(136.35)"/>
<circle r="245" pathLength="360" stroke-dasharray="3.7 999" transform="rotate(44.5)"/>
<path d="M0-245V-262" transform="rotate(134.5)"/>
<path d="M0-245V-255" transform="rotate(138.2)"/>
<path d="M0-225V-238" transform="rotate(144.5)"/>
<circle r="238" pathLength="360" stroke-dasharray="4.5 999" transform="rotate(52.25)"/>
<path d="M0-238V-250" transform="rotate(142.25)"/>
<path d="M0-238V-256" transform="rotate(146.75)"/>
<path d="M0-200V-205" transform="rotate(154)"/>
<circle r="205" pathLength="360" stroke-dasharray="5.9 999" transform="rotate(61)"/>
<path d="M0-205V-215" transform="rotate(151)"/>
<path d="M0-205V-238" transform="rotate(156.9)"/>
<circle r="238" pathLength="360" stroke-dasharray="3.75 999" transform="rotate(65)"/>
<path d="M0-238V-250" transform="rotate(155)"/>
<path d="M0-238V-258" transform="rotate(158.75)"/>
</g>
<g id="leaf-bases">
<circle r="258" pathLength="360" stroke-dasharray="3.9 999" transform="rotate(-89.7)"/>
<circle r="248" pathLength="360" stroke-dasharray="3.9 999" transform="rotate(-85.2)"/>
<circle r="262" pathLength="360" stroke-dasharray="3.5 999" transform="rotate(-80.7)"/>
<circle r="256" pathLength="360" stroke-dasharray="3.7 999" transform="rotate(-76.6)"/>
<circle r="262" pathLength="360" stroke-dasharray="2.5 999" transform="rotate(-72.3)"/>
<circle r="258" pathLength="360" stroke-dasharray="2.5 999" transform="rotate(-69.2)"/>
<circle r="262" pathLength="360" stroke-dasharray="2.6 999" transform="rotate(-66.1)"/>
<circle r="264" pathLength="360" stroke-dasharray="2.9 999" transform="rotate(-62.7)"/>
<circle r="262" pathLength="360" stroke-dasharray="3.2 999" transform="rotate(-59.2)"/>
<circle r="262" pathLength="360" stroke-dasharray="3.6 999" transform="rotate(-55.4)"/>
<circle r="245" pathLength="360" stroke-dasharray="3.4 999" transform="rotate(-51.2)"/>
<circle r="250" pathLength="360" stroke-dasharray="3.9 999" transform="rotate(-47.2)"/>
<circle r="262" pathLength="360" stroke-dasharray="3.9 999" transform="rotate(-42.7)"/>
<circle r="255" pathLength="360" stroke-dasharray="3.9 999" transform="rotate(-38.2)"/>
<circle r="238" pathLength="360" stroke-dasharray="3.9 999" transform="rotate(-33.7)"/>
<circle r="260" pathLength="360" stroke-dasharray="3.9 999" transform="rotate(-29.2)"/>
<circle r="262" pathLength="360" stroke-dasharray="4.4 999" transform="rotate(-24.7)"/>
<circle r="256" pathLength="360" stroke-dasharray="3.9 999" transform="rotate(-19.7)"/>
<circle r="260" pathLength="360" stroke-dasharray="4.9 999" transform="rotate(-15.2)"/>
<circle r="245" pathLength="360" stroke-dasharray="5.9 999" transform="rotate(-9.7)"/>
<circle r="258" pathLength="360" stroke-dasharray="2.9 999" transform="rotate(-2.7)"/>
<circle r="262" pathLength="360" stroke-dasharray="3.4 999" transform="rotate(0.8)"/>
<circle r="238" pathLength="360" stroke-dasharray="2.9 999" transform="rotate(4.8)"/>
<circle r="258" pathLength="360" stroke-dasharray="3 999" transform="rotate(8.3)"/>
<circle r="258" pathLength="360" stroke-dasharray="3.8 999" transform="rotate(11.9)"/>
<circle r="252" pathLength="360" stroke-dasharray="3.4 999" transform="rotate(16.3)"/>
<circle r="258" pathLength="360" stroke-dasharray="3.4 999" transform="rotate(20.3)"/>
<circle r="245" pathLength="360" stroke-dasharray="3.9 999" transform="rotate(24.3)"/>
<circle r="255" pathLength="360" stroke-dasharray="3.9 999" transform="rotate(28.8)"/>
<circle r="260" pathLength="360" stroke-dasharray="3.9 999" transform="rotate(33.3)"/>
<circle r="262" pathLength="360" stroke-dasharray="4.3 999" transform="rotate(37.8)"/>
<circle r="262" pathLength="360" stroke-dasharray="3.2 999" transform="rotate(42.9)"/>
<circle r="255" pathLength="360" stroke-dasharray="3 999" transform="rotate(46.7)"/>
<circle r="250" pathLength="360" stroke-dasharray="3.9 999" transform="rotate(50.3)"/>
<circle r="256" pathLength="360" stroke-dasharray="3.9 999" transform="rotate(54.8)"/>
<circle r="215" pathLength="360" stroke-dasharray="3.4 999" transform="rotate(59.3)"/>
<circle r="250" pathLength="360" stroke-dasharray="3.4 999" transform="rotate(63.3)"/>
<circle r="258" pathLength="360" stroke-dasharray="2.9 999" transform="rotate(67.3)"/>
<circle r="262" pathLength="360" stroke-dasharray="2.2 999" transform="rotate(161.1)"/>
<circle r="262" pathLength="360" stroke-dasharray="2.6 999" transform="rotate(164.1)"/>
<circle r="255" pathLength="360" stroke-dasharray="2.4 999" transform="rotate(167.3)"/>
<circle r="258" pathLength="360" stroke-dasharray="3.4 999" transform="rotate(170.3)"/>
<circle r="250" pathLength="360" stroke-dasharray="3.4 999" transform="rotate(174.3)"/>
<circle r="245" pathLength="360" stroke-dasharray="3.4 999" transform="rotate(178.3)"/>
<circle r="258" pathLength="360" stroke-dasharray="3.4 999" transform="rotate(182.3)"/>
<circle r="255" pathLength="360" stroke-dasharray="3.4 999" transform="rotate(186.3)"/>
<circle r="258" pathLength="360" stroke-dasharray="5.7 999" transform="rotate(190.3)"/>
<circle r="262" pathLength="360" stroke-dasharray="3.1 999" transform="rotate(196.9)"/>
<circle r="262" pathLength="360" stroke-dasharray="2.9 999" transform="rotate(200.8)"/>
<circle r="250" pathLength="360" stroke-dasharray="2.9 999" transform="rotate(204.3)"/>
<circle r="258" pathLength="360" stroke-dasharray="2.4 999" transform="rotate(207.8)"/>
<circle r="240" pathLength="360" stroke-dasharray="3.4 999" transform="rotate(210.8)"/>
<circle r="255" pathLength="360" stroke-dasharray="3.4 999" transform="rotate(214.8)"/>
<circle r="248" pathLength="360" stroke-dasharray="3.9 999" transform="rotate(218.8)"/>
<circle r="260" pathLength="360" stroke-dasharray="4.4 999" transform="rotate(223.3)"/>
<circle r="262" pathLength="360" stroke-dasharray="1.6 999" transform="rotate(229.6)"/>
<circle r="255" pathLength="360" stroke-dasharray="1.7 999" transform="rotate(231.8)"/>
<circle r="258" pathLength="360" stroke-dasharray="2.3 999" transform="rotate(235.6)"/>
<circle r="262" pathLength="360" stroke-dasharray="3.2 999" transform="rotate(239.5)"/>
<circle r="200" pathLength="360" stroke-dasharray="3.9 999" transform="rotate(243.3)"/>
<circle r="225" pathLength="360" stroke-dasharray="2.9 999" transform="rotate(247.8)"/>
<circle r="245" pathLength="360" stroke-dasharray="3.4 999" transform="rotate(251.3)"/>
<circle r="258" pathLength="360" stroke-dasharray="3.9 999" transform="rotate(255.3)"/>
<circle r="250" pathLength="360" stroke-dasharray="3.4 999" transform="rotate(259.8)"/>
<circle r="262" pathLength="360" stroke-dasharray="3.4 999" transform="rotate(263.8)"/>
<circle r="262" pathLength="360" stroke-dasharray="0.9 999" transform="rotate(267.8)"/>
</g>
</g>
<g id="long-leaves" class="lf">
<path class="k" style="stroke-width:2.6" d="M0-52V-279" transform="rotate(179.6)"/>
<path class="m" style="stroke-width:2.6" d="M0-56V-279" transform="rotate(180.6)"/>
<path class="c" d="M0-130V-279" transform="rotate(250.3)"/>
<path class="c" d="M0-236V-279" transform="rotate(318.8)"/>
<path class="c" d="M0-160V-279" transform="rotate(324.8)"/>
<path class="m" d="M0-200V-279" transform="rotate(328.7)"/>
<path class="c" d="M0-213V-279" transform="rotate(359.6)"/>
<path class="n" d="M0-230V-279" transform="rotate(11.8)"/>
</g>
<g id="brackets" class="br">
<circle r="285.5" pathLength="360" stroke-dasharray="18.8 999" transform="rotate(268.8)"/><path d="M0-281.5V-285.5" transform="rotate(358.8)"/><path d="M0-281.5V-285.5" transform="rotate(17.6)"/><path d="M0-285.5V-287.5" transform="rotate(8)"/>
<circle r="285.5" pathLength="360" stroke-dasharray="3.4 999" transform="rotate(-66.8)"/><path d="M0-281.5V-285.5" transform="rotate(23.2)"/><path d="M0-281.5V-285.5" transform="rotate(26.6)"/><path d="M0-285.5V-287.5" transform="rotate(25.2)"/>
<circle r="285.5" pathLength="360" stroke-dasharray="7.6 999" transform="rotate(-62.8)"/><path d="M0-281.5V-285.5" transform="rotate(27.2)"/><path d="M0-281.5V-285.5" transform="rotate(34.8)"/><path d="M0-285.5V-287.5" transform="rotate(30.8)"/>
<circle r="285.5" pathLength="360" stroke-dasharray="51.4 999" transform="rotate(-54.8)"/><path d="M0-281.5V-285.5" transform="rotate(35.2)"/><path d="M0-281.5V-285.5" transform="rotate(86.6)"/><path d="M0-285.5V-287.5" transform="rotate(59.5)"/>
<circle r="285.5" pathLength="360" stroke-dasharray="14.8 999" transform="rotate(-3)"/><path d="M0-281.5V-285.5" transform="rotate(87)"/><path d="M0-281.5V-285.5" transform="rotate(101.8)"/><path d="M0-285.5V-287.5" transform="rotate(93.5)"/>
<circle r="285.5" pathLength="360" stroke-dasharray="30.8 999" transform="rotate(12)"/><path d="M0-281.5V-285.5" transform="rotate(102)"/><path d="M0-281.5V-285.5" transform="rotate(132.8)"/><path d="M0-285.5V-287.5" transform="rotate(115.6)"/>
<circle r="285.5" pathLength="360" stroke-dasharray="27.5 999" transform="rotate(43)"/><path d="M0-281.5V-285.5" transform="rotate(133)"/><path d="M0-281.5V-285.5" transform="rotate(160.5)"/><path d="M0-285.5V-287.5" transform="rotate(144.7)"/>
<circle r="285.5" pathLength="360" stroke-dasharray="68.8 999" transform="rotate(91)"/><path d="M0-281.5V-285.5" transform="rotate(181)"/><path d="M0-281.5V-285.5" transform="rotate(249.8)"/><path d="M0-285.5V-287.5" transform="rotate(220)"/>
<circle r="285.5" pathLength="360" stroke-dasharray="3.6 999" transform="rotate(160.2)"/><path d="M0-281.5V-285.5" transform="rotate(250.2)"/><path d="M0-281.5V-285.5" transform="rotate(253.8)"/><path d="M0-285.5V-287.5" transform="rotate(252)"/>
<circle r="285.5" pathLength="360" stroke-dasharray="32.3 999" transform="rotate(164)"/><path d="M0-281.5V-285.5" transform="rotate(254)"/><path d="M0-281.5V-285.5" transform="rotate(286.3)"/><path d="M0-285.5V-287.5" transform="rotate(270.4)"/>
<circle r="285.5" pathLength="360" stroke-dasharray="3.7 999" transform="rotate(196.6)"/><path d="M0-281.5V-285.5" transform="rotate(286.6)"/><path d="M0-281.5V-285.5" transform="rotate(290.3)"/><path d="M0-285.5V-287.5" transform="rotate(288.45)"/>
<circle r="285.5" pathLength="360" stroke-dasharray="27.7 999" transform="rotate(200.5)"/><path d="M0-281.5V-285.5" transform="rotate(290.5)"/><path d="M0-281.5V-285.5" transform="rotate(318.2)"/><path d="M0-285.5V-287.5" transform="rotate(302.9)"/>
<circle r="285.5" pathLength="360" stroke-dasharray="5.5 999" transform="rotate(228.5)"/><path d="M0-281.5V-285.5" transform="rotate(318.5)"/><path d="M0-281.5V-285.5" transform="rotate(324)"/><path d="M0-285.5V-287.5" transform="rotate(321.25)"/>
<circle r="285.5" pathLength="360" stroke-dasharray="34 999" transform="rotate(234.5)"/><path d="M0-281.5V-285.5" transform="rotate(324.5)"/><path d="M0-281.5V-285.5" transform="rotate(358.5)"/><path d="M0-285.5V-287.5" transform="rotate(338.8)"/>
</g>
<g id="clade-labels" class="cl">
<text id="lab-2a" transform="rotate(8) translate(0 -288.5)">2a</text>
<text id="lab-1a" transform="rotate(25.2) translate(0 -289)">1a</text>
<text id="lab-1b" transform="rotate(30.8) translate(0 -289)">1b</text>
<text id="lab-1c" transform="rotate(59.5) translate(0 -289)">1c</text>
<text id="lab-1d" transform="rotate(93.5) translate(0 -289)">1d</text>
<text id="lab-1e" transform="rotate(115.6) translate(0 -289)">1e</text>
<text id="lab-1f" transform="rotate(144.7) translate(0 -289)">1f</text>
<text id="lab-srlck" transform="rotate(220) translate(0 -291)">SRLCK</text>
<text id="lab-2g" transform="rotate(251.6) translate(0 -289)">2g</text>
<text id="lab-2f" transform="rotate(270.4) translate(0 -289)">2f</text>
<text id="lab-2e" transform="rotate(288) translate(0 -289)">2e</text>
<text id="lab-2d" transform="rotate(302.9) translate(0 -289)">2d</text>
<text id="lab-2c" transform="rotate(320.4) translate(0 -289)">2c</text>
<text id="lab-2b" transform="rotate(338.8) translate(0 -289)">2b</text>
</g>
</g>
<g id="support-values">
<text x="279" y="203">100</text>
<text x="402" y="244">98</text>
<text x="199" y="242">88</text>
<text x="432" y="231">85</text>
<text x="425" y="206">97</text>
<text x="400" y="110">96</text>
<text x="390" y="92">100</text>
<text x="310" y="110">93</text>
<text x="420" y="315">99</text>
<text x="500" y="310">93</text>
<text x="455" y="387">97</text>
<text x="410" y="451">91</text>
<text x="219" y="161">86</text>
<text x="156" y="122">90</text>
<text x="121" y="215">91</text>
<text x="65" y="228">88</text>
<text x="100" y="348">96</text>
<text x="78" y="370">99</text>
</g>
<g id="arrow">
<path d="M43 467L54 459" stroke="#000" stroke-width="1.5" fill="none" marker-end="url(#ah)"/>
<path d="M72 447L75 440L78 446z" fill="#000"/>
</g>
</svg>
